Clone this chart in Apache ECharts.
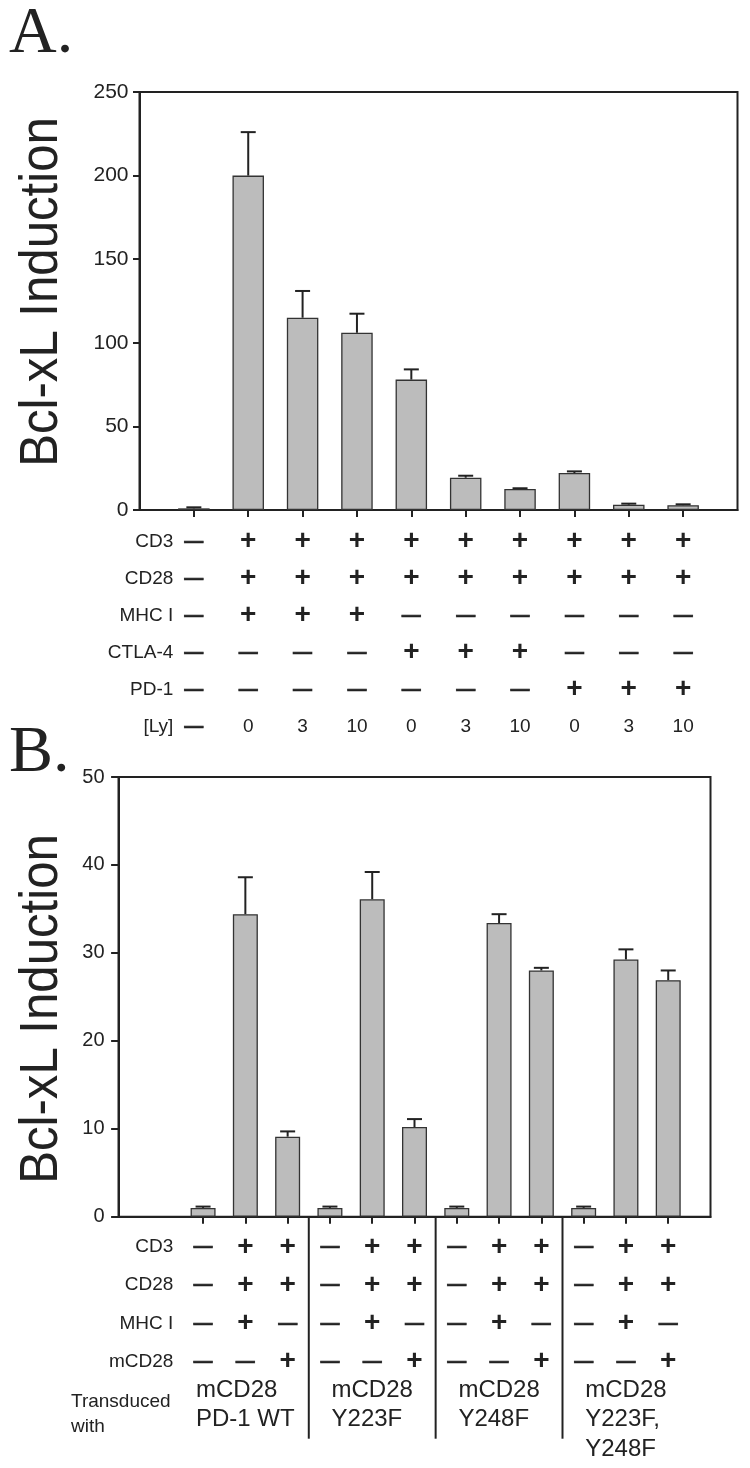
<!DOCTYPE html>
<html><head><meta charset="utf-8">
<script src="https://cdn.jsdelivr.net/npm/echarts@6/dist/echarts.min.js"></script>
<style>html,body{margin:0;padding:0;background:#fff}#c{width:750px;height:1468px}</style>
</head><body><div id="c"></div>
<script>
const FONT = '"Liberation Sans", Arial, Helvetica, sans-serif';
const SERIF = '"Liberation Serif", "Times New Roman", serif';
const INK = '#222';
const BAR = '#bcbcbc';

// ---------- Panel A data ----------
const yMaxA = 250, yStepA = 50;
const valuesA = [1.0, 200, 115, 106, 78, 19.3, 12.6, 22.1, 3.2, 2.9];
const errTopA = [1.6, 226, 131, 117.4, 84.1, 20.5, 13.0, 23.1, 3.8, 3.4];
const rowLabelsA = ['CD3', 'CD28', 'MHC I', 'CTLA-4', 'PD-1', '[Ly]'];
const cd3A   = ['-', '+', '+', '+', '+', '+', '+', '+', '+', '+'];
const cd28A  = ['-', '+', '+', '+', '+', '+', '+', '+', '+', '+'];
const mhcA   = ['-', '+', '+', '+', '-', '-', '-', '-', '-', '-'];
const ctla4A = ['-', '-', '-', '-', '+', '+', '+', '-', '-', '-'];
const pd1A   = ['-', '-', '-', '-', '-', '-', '-', '+', '+', '+'];
const lyA    = ['-', '0', '3', '10', '0', '3', '10', '0', '3', '10'];

// ---------- Panel B data ----------
const yMaxB = 50, yStepB = 10;
const valuesB = [1.0, 34.4, 9.1, 1.0, 36.1, 10.2, 1.0, 33.4, 28.0, 1.0, 29.25, 26.9];
const errTopB = [1.15, 38.6, 9.7, 1.15, 39.2, 11.1, 1.15, 34.4, 28.3, 1.15, 30.4, 28.0];
const rowLabelsB = ['CD3', 'CD28', 'MHC I', 'mCD28'];
const cd3B   = ['-', '+', '+', '-', '+', '+', '-', '+', '+', '-', '+', '+'];
const cd28B  = ['-', '+', '+', '-', '+', '+', '-', '+', '+', '-', '+', '+'];
const mhcB   = ['-', '+', '-', '-', '+', '-', '-', '+', '-', '-', '+', '-'];
const mcd28B = ['-', '-', '+', '-', '-', '+', '-', '-', '+', '-', '-', '+'];
const groupLabelsB = [['mCD28', 'PD-1 WT'], ['mCD28', 'Y223F'], ['mCD28', 'Y248F'], ['mCD28', 'Y223F,', 'Y248F']];
const transducedLabel = 'Transduced\nwith';
const yTitle = 'Bcl-xL Induction';

// ---------- layout constants ----------
const padA = 1, padB = 2;          // empty slots before first bar
const lhA = 37, marginA = 13;
const lhB = 38.3, marginB = 11;

const tableA = [cd3A, cd28A, mhcA, ctla4A, pd1A, lyA];
const tableB = [cd3B, cd28B, mhcB, mcd28B];

const catsA = [''].concat(valuesA.map((_, i) => 'a' + i), ['']);
const catsB = ['', ''].concat(valuesB.map((_, i) => 'b' + i), ['']);
const barDataA = [null].concat(valuesA, [null]);
const barDataB = [null, null].concat(valuesB, [null]);
const errDataA = valuesA.map((v, i) => [i + padA, v, errTopA[i]]);
const errDataB = valuesB.map((v, i) => [i + padB, v, errTopB[i]]);

function sym(s) {
  if (s === '+') return '{p|+}';
  if (s === '-') return '{m|—}';
  return '{n|' + s + '}';
}
function makeRich(lh) {
  return {
    p: { fontSize: 28, fontWeight: 'bold', fontFamily: FONT, color: INK, lineHeight: lh, verticalAlign: 'middle' },
    m: { fontSize: 19, fontWeight: 'bold', fontFamily: FONT, color: INK, lineHeight: lh, verticalAlign: 'middle',
         textBorderColor: INK, textBorderWidth: 0.6 },
    n: { fontSize: 19, fontFamily: FONT, color: INK, lineHeight: lh, verticalAlign: 'middle' }
  };
}

function errRender(params, api) {
  const x = api.value(0), v = api.value(1), e = api.value(2);
  const p0 = api.coord([x, v]);
  const p1 = api.coord([x, e]);
  const st = { stroke: INK, lineWidth: 2 };
  return {
    type: 'group',
    children: [
      { type: 'line', shape: { x1: p0[0], y1: p0[1], x2: p1[0], y2: p1[1] }, style: st },
      { type: 'line', shape: { x1: p1[0] - 7.5, y1: p1[1], x2: p1[0] + 7.5, y2: p1[1] }, style: st }
    ]
  };
}

const axisLine = { show: true, onZero: false, lineStyle: { color: INK, width: 2 } };

const option = {
  animation: false,
  backgroundColor: '#fff',
  grid: [
    { left: 139.5, right: 12.5, top: 92, height: 418, show: true, borderColor: INK, borderWidth: 2 },
    { left: 118.5, right: 39.5, top: 777, height: 439.7, show: true, borderColor: INK, borderWidth: 2 }
  ],
  xAxis: [
    {
      type: 'category', gridIndex: 0, data: catsA, boundaryGap: false,
      axisLine: axisLine,
      axisTick: { show: true, length: 7, lineStyle: { color: INK, width: 2 },
        interval: (i) => i >= padA && i < padA + valuesA.length },
      splitLine: { show: false },
      axisLabel: {
        interval: 0, margin: marginA, rich: makeRich(lhA),
        formatter: (val, idx) => {
          const c = idx - padA;
          if (c < 0 || c >= valuesA.length) return '';
          return tableA.map(r => sym(r[c])).join('\n');
        }
      }
    },
    {
      type: 'category', gridIndex: 1, data: catsB, boundaryGap: false,
      axisLine: axisLine,
      axisTick: { show: true, length: 7, lineStyle: { color: INK, width: 2 },
        interval: (i) => i >= padB && i < padB + valuesB.length },
      splitLine: { show: false },
      axisLabel: {
        interval: 0, margin: marginB, rich: makeRich(lhB),
        formatter: (val, idx) => {
          const c = idx - padB;
          if (c < 0 || c >= valuesB.length) return '';
          return tableB.map(r => sym(r[c])).join('\n');
        }
      }
    }
  ],
  yAxis: [
    {
      type: 'value', gridIndex: 0, min: 0, max: yMaxA, interval: yStepA,
      axisLine: axisLine,
      axisTick: { show: true, length: 6.5, lineStyle: { color: INK, width: 2 } },
      splitLine: { show: false },
      axisLabel: { fontSize: 21, fontFamily: FONT, color: INK, margin: 11 }
    },
    {
      type: 'value', gridIndex: 1, min: 0, max: yMaxB, interval: yStepB,
      axisLine: axisLine,
      axisTick: { show: true, length: 7.4, lineStyle: { color: INK, width: 2 } },
      splitLine: { show: false },
      axisLabel: { fontSize: 20, fontFamily: FONT, color: INK, margin: 14 }
    }
  ],
  series: [
    { type: 'bar', xAxisIndex: 0, yAxisIndex: 0, data: barDataA, barWidth: 31.5,
      itemStyle: { color: BAR, borderColor: '#333', borderWidth: 1.3 } },
    { type: 'custom', xAxisIndex: 0, yAxisIndex: 0, data: errDataA, renderItem: errRender, z: 5,
      encode: { x: 0, y: 1 } },
    { type: 'bar', xAxisIndex: 1, yAxisIndex: 1, data: barDataB, barWidth: 25,
      itemStyle: { color: BAR, borderColor: '#333', borderWidth: 1.3 } },
    { type: 'custom', xAxisIndex: 1, yAxisIndex: 1, data: errDataB, renderItem: errRender, z: 5,
      encode: { x: 0, y: 1 } }
  ]
};

const chart = echarts.init(document.getElementById('c'), null, { renderer: 'canvas' });
chart.setOption(option);

// ---------- text overlays placed from the axes ----------
const g = [];
function txt(o) {
  return { type: 'text', silent: true, z: 10, ...o };
}
const axisYA = chart.convertToPixel({ gridIndex: 0 }, [0, 0])[1];
const axisYB = chart.convertToPixel({ gridIndex: 1 }, [0, 0])[1];
const topA = chart.convertToPixel({ gridIndex: 0 }, [0, yMaxA])[1];
const topB = chart.convertToPixel({ gridIndex: 1 }, [0, yMaxB])[1];

// panel letters
g.push(txt({ x: 9, y: topA - 57, style: { text: 'A.', font: '66px ' + SERIF, fill: INK, textAlign: 'left', textVerticalAlign: 'middle', align: 'left', verticalAlign: 'middle' } }));
g.push(txt({ x: 9, y: topB - 23, style: { text: 'B.', font: '66px ' + SERIF, fill: INK, textAlign: 'left', textVerticalAlign: 'middle', align: 'left', verticalAlign: 'middle' } }));

// y-axis titles
[292, 1009].forEach((cy) => {
  g.push(txt({ x: 42, y: cy, rotation: Math.PI / 2, scaleX: 0.91,
    style: { text: yTitle, font: '54px ' + FONT, fill: INK, textAlign: 'center', textVerticalAlign: 'middle', align: 'center', verticalAlign: 'middle' } }));
});

// row labels
const rowRight = 173.3;
rowLabelsA.forEach((s, i) => {
  g.push(txt({ x: rowRight, y: axisYA + marginA + lhA * (i + 0.5),
    style: { text: s, font: '19px ' + FONT, fill: INK, textAlign: 'right', textVerticalAlign: 'middle', align: 'right', verticalAlign: 'middle' } }));
});
rowLabelsB.forEach((s, i) => {
  g.push(txt({ x: rowRight, y: axisYB + marginB + lhB * (i + 0.5),
    style: { text: s, font: '19px ' + FONT, fill: INK, textAlign: 'right', textVerticalAlign: 'middle', align: 'right', verticalAlign: 'middle' } }));
});

// group separators and group labels in panel B
const xB = (i) => chart.convertToPixel({ gridIndex: 1 }, [i, 0])[0];
const groupSize = 3;
const sepBottom = axisYB + 222;
for (let k = 1; k < groupLabelsB.length; k++) {
  const i = padB + k * groupSize;
  const x = (xB(i - 1) + xB(i)) / 2;
  g.push({ type: 'line', silent: true, z: 10, shape: { x1: x, y1: axisYB, x2: x, y2: sepBottom }, style: { stroke: INK, lineWidth: 2 } });
}
const cv = document.createElement('canvas').getContext('2d');
const gFont = '24px ' + FONT;
cv.font = '24px "Liberation Sans", Arial, sans-serif';
groupLabelsB.forEach((lines, k) => {
  const mid = xB(padB + k * groupSize + 1);
  const w = Math.max(...lines.map(l => cv.measureText(l).width));
  g.push(txt({ x: mid - w / 2, y: axisYB + 158.5,
    style: { text: lines.join('\n'), font: gFont, fill: INK, lineHeight: 29.5, textAlign: 'left', textVerticalAlign: 'top', align: 'left', verticalAlign: 'top' } }));
});
g.push(txt({ x: 71, y: axisYB + 172.5,
  style: { text: transducedLabel, font: '19px ' + FONT, fill: INK, lineHeight: 25, textAlign: 'left', textVerticalAlign: 'top', align: 'left', verticalAlign: 'top' } }));

chart.setOption({ graphic: g });
</script></body></html>
